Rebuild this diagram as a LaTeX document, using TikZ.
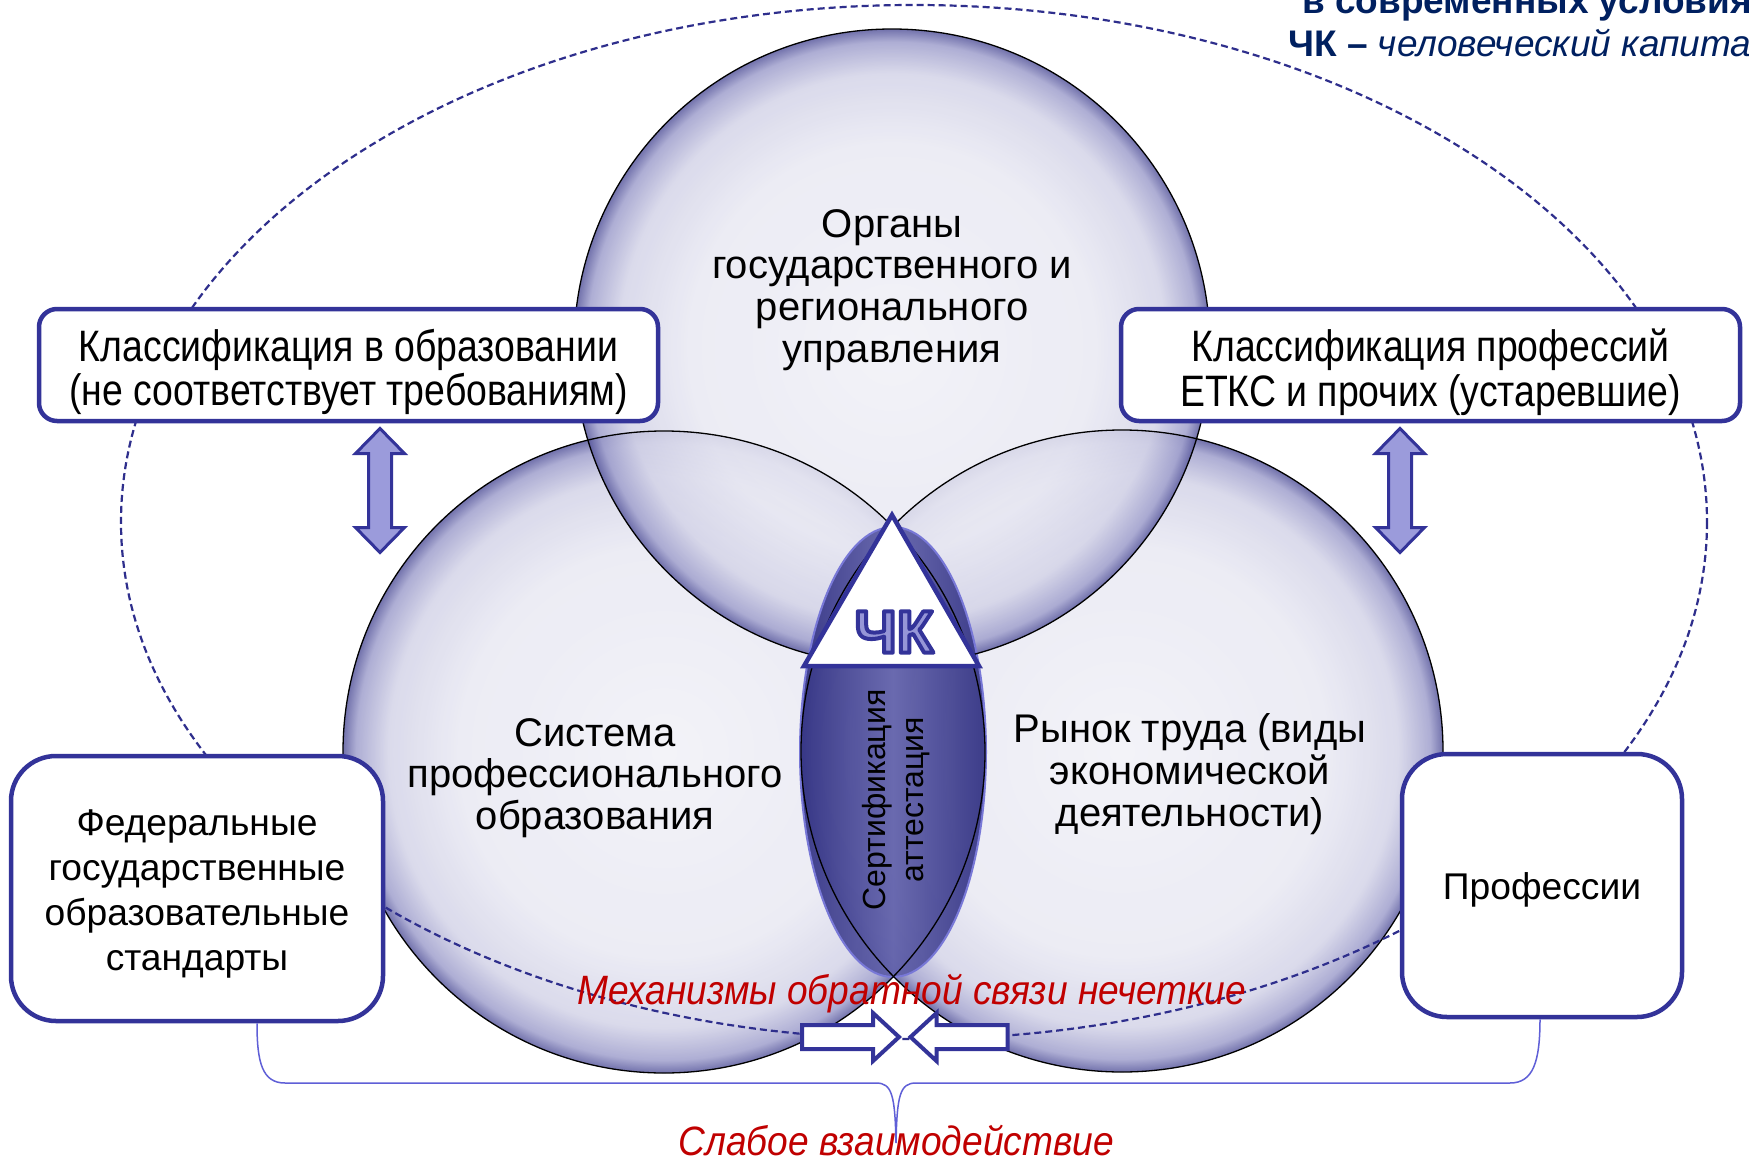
\documentclass[tikz,border=0pt]{standalone}
\usepackage{fontspec}
\setmainfont{Liberation Sans}
\newfontfamily\condfont[FakeStretch=0.85]{Liberation Sans}
\newfontfamily\redfont[FakeStretch=0.905]{Liberation Sans}
\definecolor{navy}{RGB}{51,51,153}
\definecolor{titlenavy}{RGB}{0,32,96}
\definecolor{redtxt}{RGB}{192,0,0}
\definecolor{arrowfill}{RGB}{155,155,219}
\definecolor{lensdark}{RGB}{52,52,132}
\definecolor{lensmid}{RGB}{100,100,172}
\definecolor{lensrim}{RGB}{120,120,215}
\definecolor{dashblue}{RGB}{46,46,140}
\definecolor{bracecol}{RGB}{95,95,215}
\definecolor{gl0}{RGB}{241,241,247}
\definecolor{gl1}{RGB}{233,233,243}
\definecolor{gl2}{RGB}{212,212,232}
\definecolor{gl3}{RGB}{160,160,205}
\definecolor{gl4}{RGB}{90,90,158}
\definecolor{ckfill}{RGB}{150,150,215}
\pgfdeclareradialshading{glass}{\pgfpoint{0bp}{0bp}}{color(0bp)=(gl0); color(16bp)=(gl1); color(21.5bp)=(gl2); color(24bp)=(gl3); color(25bp)=(gl4); color(50bp)=(gl4)}
\newcommand{\ckoutline}[1]{\special{pdf:literal direct 2 Tr 4 w 1 j 0.2 0.2 0.6 RG}#1\special{pdf:literal direct 0 Tr}}
\tikzset{
  txt/.style={align=center, inner sep=0pt, text=black},
  circtxt/.style={txt, font=\fontsize{40}{41.7}\selectfont},
  boxbase/.style={draw=navy, line width=4.5, fill=white, inner sep=0pt, line join=round},
  topbox/.style={boxbase, rounded corners=18, minimum width=619, minimum height=112},
  toptxt/.style={txt, font=\condfont\fontsize{44}{44.5}\selectfont},
  botbox/.style={boxbase, rounded corners=45},
  bottxt/.style={txt, font=\fontsize{37.2}{45}\selectfont},
  redlab/.style={text=redtxt, font=\redfont\itshape\fontsize{41}{45}\selectfont, inner sep=0pt},
  glassball/.style={shading=glass, fill opacity=0.85},
  ballline/.style={draw=black, line width=1.3},
  blockarrow/.style={draw=navy, line width=3, fill=arrowfill, line join=miter},
  whitearrow/.style={draw=navy, line width=4, fill=white, line join=miter},
  vdarrow/.pic={\draw[blockarrow] (0,-62) -- (24.5,-37) -- (11.5,-37) -- (11.5,37) -- (24.5,37) -- (0,62) -- (-24.5,37) -- (-11.5,37) -- (-11.5,-37) -- (-24.5,-37) -- cycle;},
  harrow/.pic={\draw[whitearrow] (-48.5,-12) -- (22.5,-12) -- (22.5,-24) -- (48.5,0) -- (22.5,24) -- (22.5,12) -- (-48.5,12) -- cycle;},
}
\begin{document}
\begin{tikzpicture}[x=1pt,y=-1pt]
\useasboundingbox (0,0) rectangle (1749,1159);
\clip (0,0) rectangle (1749,1159);
\fill[white] (0,0) rectangle (1749,1159);

% circles
\coordinate (cl) at (664,752);
\coordinate (cr) at (1122,751);
\coordinate (ct) at (892,347);
\shade[glassball] (cl) circle (321);
\shade[glassball] (cr) circle (321);
\shade[glassball] (ct) circle (318);

% lens
\coordinate (lensc) at (893,752);
\shade[left color=lensdark, right color=lensdark, middle color=lensmid, fill opacity=0.95] (lensc) ellipse [x radius=93, y radius=225];
\draw[lensrim, line width=2] (lensc) ellipse [x radius=93, y radius=225];

% outlines
\draw[ballline] (cl) circle (321);
\draw[ballline] (cr) circle (321);
\draw[ballline] (ct) circle (318);

% dashed ellipse
\draw[dashblue, line width=2.2, dash pattern=on 7 off 4] (914,522) ellipse [x radius=793, y radius=517];

% boxes
\node[topbox] (klobr) at (348.5,365) {};
\node[toptxt] (klobrtxt) at (348.5,372) {Классификация в образовании\\(не соответствует требованиям)};
\node[topbox] (klprof) at (1430.5,365) {};
\node[toptxt] (klproftxt) at (1430.5,372) {Классификация профессий\\ЕТКС и прочих (устаревшие)};
\node[botbox, minimum width=372, minimum height=265] (fgos) at (197,888.5) {};
\node[bottxt] (fgostxt) at (197,894) {Федеральные\\государственные\\образовательные\\стандарты};
\node[botbox, minimum width=280, minimum height=263] (prof) at (1542,885.5) {};
\node[bottxt] (proftxt) at (1542,890) {Профессии};

% vertical double arrows
\pic at (380,490.5) {vdarrow};
\pic at (1400,490.5) {vdarrow};

% triangle
\draw[navy, line width=4.5, fill=white, line join=miter] (892,515) -- (804,666) -- (979,666) -- cycle;
\node[text=ckfill, font=\bfseries\fontsize{60}{60}\selectfont, inner sep=0pt] (ck) at (894,632) {\ckoutline{ЧК}};

% circle texts
\node[circtxt] (toptxt) at (892,290) {Органы\\государственного и\\регионального\\управления};
\node[circtxt] (lefttxt) at (595,778) {Система\\профессионального\\образования};
\node[circtxt] (righttxt) at (1190,774) {Рынок труда (виды\\экономической\\деятельности)};
\node[txt, rotate=90, font=\fontsize{32}{38}\selectfont] (lenstxt) at (896,800) {Сертификация\\аттестация};

% bottom arrows
\pic at (850.5,1037) {harrow};
\pic[rotate=180] at (959,1037) {harrow};

% brace
\draw[bracecol, line width=1.5] ([xshift=60]fgos.south) .. controls (257,1062) and (262,1083) .. (285,1083) -- (876,1083) .. controls (892,1083) and (895,1095) .. (896,1143) .. controls (897,1095) and (900,1083) .. (916,1083) -- (1510,1083) .. controls (1533,1083) and (1540,1062) .. ([xshift=-2]prof.south);

% red labels
\node[redlab] (mech) at (912,994) {Механизмы обратной связи нечеткие};
\node[redlab] (weak) at (896,1141) {Слабое взаимодействие};

% title
\node[anchor=base west, inner sep=0pt, text=titlenavy, font=\bfseries\fontsize{37}{40}\selectfont] (title1) at (1302,13) {в современных условиях};
\node[anchor=base west, inner sep=0pt, text=titlenavy, font=\fontsize{37}{40}\selectfont] (title2) at (1288,56) {\textbf{ЧК –} \textit{человеческий капитал}};
\end{tikzpicture}
\end{document}
